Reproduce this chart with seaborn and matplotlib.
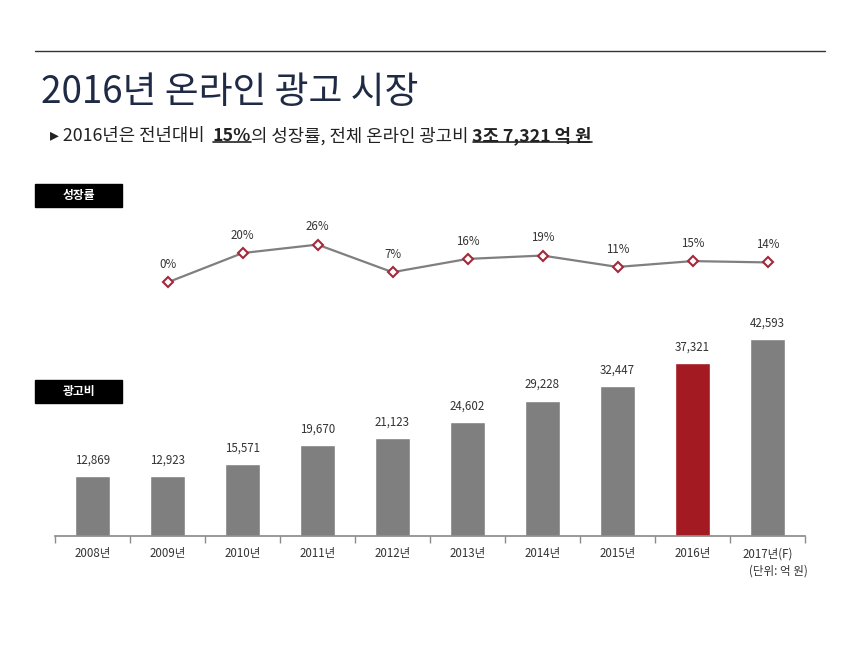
import numpy as np
import pandas as pd
import matplotlib.pyplot as plt
import seaborn as sns

years = ['2008년', '2009년', '2010년', '2011년', '2012년',
         '2013년', '2014년', '2015년', '2016년', '2017년(F)']
ad_spend = [12869, 12923, 15571, 19670, 21123, 24602, 29228, 32447, 37321, 42593]
growth_years = years[1:]
growth = [0.4, 20.5, 26.3, 7.4, 16.5, 18.8, 11.0, 15.0, 14.1]
growth_labels = ['0%', '20%', '26%', '7%', '16%', '19%', '11%', '15%', '14%']
highlight = '2016년'

sns.set_theme(style='white')
plt.rcParams['font.family'] = ['Noto Sans CJK KR', 'DejaVu Sans']

W, H = 860, 645
fig = plt.figure(figsize=(W / 100, H / 100), dpi=100)

def px_axes(x0, y_top, w, h):
    return fig.add_axes([x0 / W, 1 - (y_top + h) / H, w / W, h / H])

# header
fig.add_artist(plt.Line2D([35 / W, 825 / W], [1 - 51 / H, 1 - 51 / H], color='#333333', lw=1))
fig.text(41 / W, 1 - 93 / H, '2016년 온라인 광고 시장', fontsize=26.5, color='#1f2b45',
         va='center', ha='left', fontweight='medium')

# bar chart
ax_bar = px_axes(55, 300, 750, 236)
df_bar = pd.DataFrame({'year': years, 'spend': ad_spend})
colors = ['#a31a22' if y == highlight else '#7f7f7f' for y in years]
sns.barplot(data=df_bar, x='year', y='spend', hue='year', palette=colors,
            legend=False, width=0.47, ax=ax_bar, saturation=1)
ax_bar.set_xlim(-0.5, 9.5)
ax_bar.set_ylim(0, 236 / 0.004625)
for i, v in enumerate(ad_spend):
    ax_bar.annotate(f'{v:,}', xy=(i, v), xytext=(0, 7), textcoords='offset points',
                    ha='center', va='bottom', fontsize=8.3, color='#333333')
ax_bar.set_xlabel('')
ax_bar.set_ylabel('')
ax_bar.set_yticks([])
for s in ['top', 'right', 'left']:
    ax_bar.spines[s].set_visible(False)
ax_bar.spines['bottom'].set_color('#8c8c8c')
ax_bar.set_xticks(np.arange(-0.5, 10, 1), minor=True)
ax_bar.tick_params(axis='x', which='minor', bottom=True, length=5, color='#8c8c8c', direction='out')
ax_bar.tick_params(axis='x', which='major', bottom=False, length=0, labelsize=8.3,
                   labelcolor='#333333', pad=8)
fig.text(808 / W, 1 - 571 / H, '(단위: 억 원)', fontsize=8.3, color='#333333', ha='right', va='center')

# growth line
ax_line = px_axes(55, 215, 750, 85)
df_line = pd.DataFrame({'pos': [years.index(y) for y in growth_years], 'growth': growth})
sns.lineplot(data=df_line, x='pos', y='growth', ax=ax_line, color='#7f7f7f', lw=1.6,
             marker='D', markersize=5.5, markerfacecolor='white', markeredgecolor='#a3293a',
             markeredgewidth=1.5)
ax_line.set_xlim(-0.5, 9.5)
scale = 1.46
ax_line.set_ylim(-(300 - 283) / scale, (283 - 215) / scale)
for x, v, lab in zip(df_line['pos'], growth, growth_labels):
    ax_line.annotate(lab, xy=(x, v), xytext=(0, 8), textcoords='offset points',
                     ha='center', va='bottom', fontsize=8.3, color='#333333')
ax_line.axis('off')

# subtitle pieces, some bold + underlined
pieces = [('▸ 2016년은 전년대비  ', 'normal', False), ('15%', 'bold', True),
          ('의 성장률, 전체 온라인 광고비 ', 'normal', False), ('3조 7,321 억 원', 'bold', True)]
prev = fig.text(50 / W, 1 - 136 / H, pieces[0][0], fontsize=12.8, color='#222222',
                va='center', ha='left')
texts = [(prev, False)]
for txt, weight, ul in pieces[1:]:
    t = ax_line.annotate(txt, xy=(1, 0.5), xycoords=prev, va='center', ha='left',
                         fontsize=12.8, fontweight=weight, color='#222222',
                         annotation_clip=False)
    texts.append((t, ul))
    prev = t

# black label boxes
for label, y_top in [('성장률', 184), ('광고비', 380)]:
    fig.patches.append(plt.Rectangle((35 / W, 1 - (y_top + 23) / H), 87 / W, 23 / H,
                                     transform=fig.transFigure, color='black', zorder=5))
    fig.text(78.5 / W, 1 - (y_top + 11.5) / H, label, color='white', fontsize=8.5,
             fontweight='bold', ha='center', va='center', zorder=6)

# underline bold pieces
fig.canvas.draw()
inv = fig.transFigure.inverted()
for t, ul in texts:
    if ul:
        bb = t.get_window_extent()
        (x0, y0), (x1, _) = inv.transform([(bb.x0, bb.y0), (bb.x1, bb.y1)])
        yline = y0 + 3 / H
        fig.add_artist(plt.Line2D([x0, x1], [yline, yline], color='#222222', lw=1.2))

fig.savefig('out.png', dpi=100, facecolor='white')
